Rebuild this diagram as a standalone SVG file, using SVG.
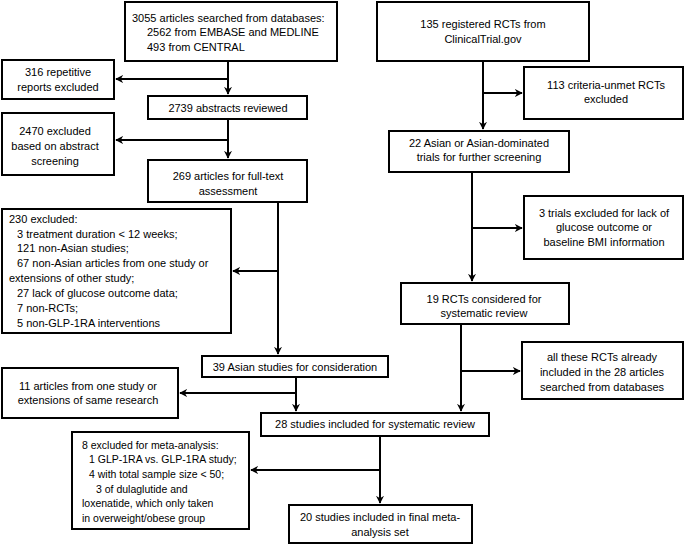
<svg xmlns="http://www.w3.org/2000/svg" width="685" height="544" viewBox="0 0 685 544">
<style>
rect{fill:#fff;stroke:#000;stroke-width:2}
text{font-family:"Liberation Sans",Arial,sans-serif;font-size:11px;fill:#000}
.c{text-anchor:middle}
.s{font-size:10.5px}
#conn path{fill:none;stroke:#000;stroke-width:2}
</style>
<defs>
<marker id="ah" viewBox="0 0 10 10" refX="9" refY="5" markerWidth="4" markerHeight="4" orient="auto" markerUnits="strokeWidth">
<path d="M0,0 L10,5 L0,10 L3,5 Z" fill="#000"/>
</marker>
</defs>
<rect x="0" y="0" width="685" height="544" style="stroke:none"/>
<g id="conn">
<path d="M228,61 V94" marker-end="url(#ah)"/>
<path d="M228,79 H116" marker-end="url(#ah)"/>
<path d="M228,119 V158" marker-end="url(#ah)"/>
<path d="M228,140 H116" marker-end="url(#ah)"/>
<path d="M278,202 V354" marker-end="url(#ah)"/>
<path d="M278,271 H233" marker-end="url(#ah)"/>
<path d="M296,377 V411" marker-end="url(#ah)"/>
<path d="M296,393 H180" marker-end="url(#ah)"/>
<path d="M380,436 V503" marker-end="url(#ah)"/>
<path d="M380,470 H251" marker-end="url(#ah)"/>
<path d="M483,61 V129" marker-end="url(#ah)"/>
<path d="M483,93 H522" marker-end="url(#ah)"/>
<path d="M472,172 V281" marker-end="url(#ah)"/>
<path d="M472,228 H522" marker-end="url(#ah)"/>
<path d="M461,324 V411" marker-end="url(#ah)"/>
<path d="M461,371 H520" marker-end="url(#ah)"/>
</g>
<g id="n1"><rect x="125" y="2" width="212" height="59"/>
<text x="132" y="22">3055 articles searched from databases:</text>
<text x="147" y="36">2562 from EMBASE and MEDLINE</text>
<text x="147" y="51">493 from CENTRAL</text></g>
<g id="n2"><rect x="2" y="60" width="112" height="39"/>
<text class="c" x="58" y="76">316 repetitive</text>
<text class="c" x="58" y="91">reports excluded</text></g>
<g id="n3"><rect x="148" y="96" width="159" height="23"/>
<text class="c" x="228" y="112">2739 abstracts  reviewed</text></g>
<g id="n4"><rect x="2" y="113" width="112" height="62"/>
<text class="c" x="55" y="135">2470 excluded</text>
<text class="c" x="55" y="150">based on abstract</text>
<text class="c" x="55" y="165">screening</text></g>
<g id="n5"><rect x="148" y="160" width="159" height="42"/>
<text class="c" x="228" y="180">269 articles for full-text</text>
<text class="c" x="228" y="195">assessment</text></g>
<g id="n6"><rect x="2" y="209" width="229" height="124"/>
<text x="9" y="223">230 excluded:</text>
<text x="17" y="238">3 treatment duration &lt; 12 weeks;</text>
<text x="17" y="252">121 non-Asian studies;</text>
<text x="17" y="267">67 non-Asian articles from one study or</text>
<text x="9" y="282">extensions of other study;</text>
<text x="17" y="297">27 lack of glucose outcome data;</text>
<text x="17" y="312">7 non-RCTs;</text>
<text x="17" y="327">5 non-GLP-1RA interventions</text></g>
<g id="n7"><rect x="202" y="356" width="186" height="21"/>
<text class="c" x="295" y="371">39 Asian studies for consideration</text></g>
<g id="n8"><rect x="2" y="368" width="176" height="50"/>
<text class="c" x="88" y="390">11 articles from one study or</text>
<text class="c" x="88" y="404">extensions of same research</text></g>
<g id="n9"><rect x="261" y="413" width="228" height="23"/>
<text class="c" x="375" y="428">28 studies included for systematic review</text></g>
<g id="n10"><rect x="72" y="432" width="177" height="97"/>
<text class="s" x="82" y="449">8 excluded for meta-analysis:</text>
<text class="s" x="89" y="463">1 GLP-1RA vs. GLP-1RA study;</text>
<text class="s" x="89" y="478">4 with total sample size &lt; 50;</text>
<text class="s" x="96" y="493">3 of dulaglutide and</text>
<text class="s" x="82" y="507">loxenatide, which  only taken</text>
<text class="s" x="82" y="522">in overweight/obese group</text></g>
<g id="n11"><rect x="289" y="505" width="183" height="38"/>
<text class="c" x="380" y="521">20 studies included in final meta-</text>
<text class="c" x="380" y="536">analysis set</text></g>
<g id="r1"><rect x="377" y="2" width="212" height="59"/>
<text class="c" x="483" y="28">135 registered RCTs from</text>
<text class="c" x="483" y="43">ClinicalTrial.gov</text></g>
<g id="r2"><rect x="524" y="67" width="159" height="52"/>
<text class="c" x="606" y="89">113 criteria-unmet RCTs</text>
<text class="c" x="606" y="103">excluded</text></g>
<g id="r3"><rect x="389" y="131" width="180" height="41"/>
<text class="c" x="479" y="147">22 Asian or Asian-dominated</text>
<text class="c" x="479" y="161">trials for further screening</text></g>
<g id="r4"><rect x="524" y="196" width="159" height="63"/>
<text class="c" x="604" y="217">3 trials excluded for lack of</text>
<text class="c" x="604" y="231">glucose outcome or</text>
<text class="c" x="604" y="246">baseline BMI information</text></g>
<g id="r5"><rect x="401" y="283" width="168" height="41"/>
<text class="c" x="484" y="303">19 RCTs considered for</text>
<text class="c" x="484" y="317">systematic review</text></g>
<g id="r6"><rect x="522" y="342" width="161" height="57"/>
<text class="c" x="602" y="361">all these RCTs already</text>
<text class="c" x="602" y="376">included in the 28 articles</text>
<text class="c" x="602" y="391">searched from databases</text></g>
</svg>
